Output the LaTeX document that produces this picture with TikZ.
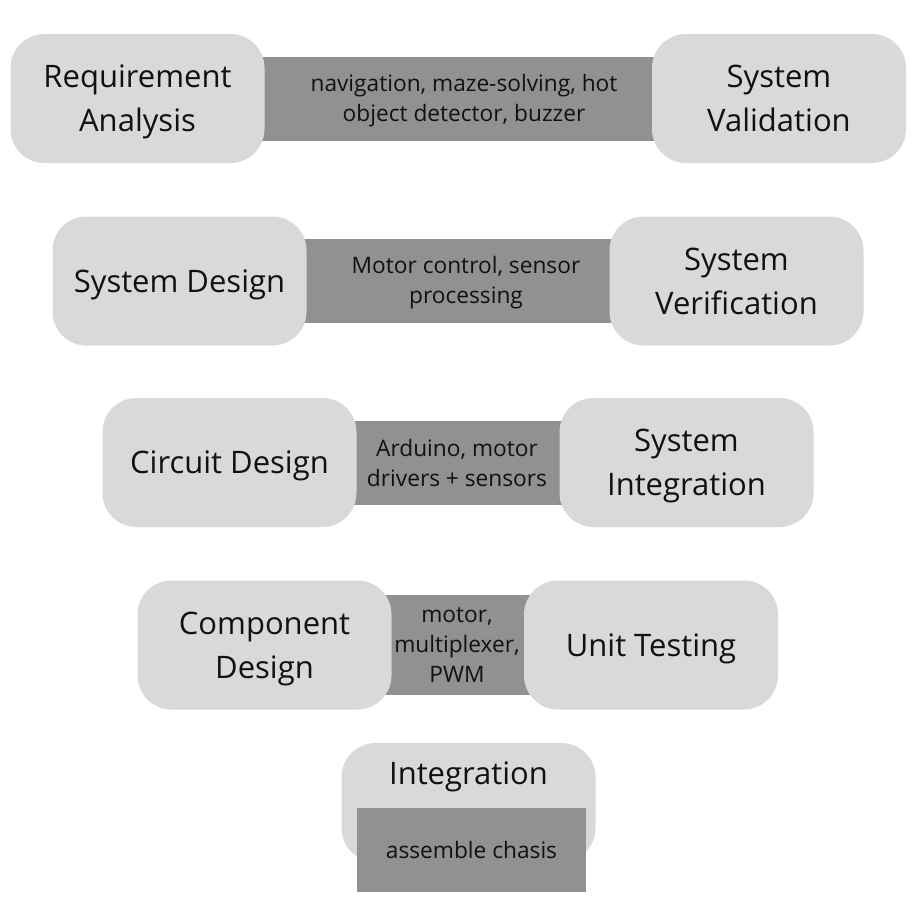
\documentclass[tikz,border=0pt]{standalone}
\usepackage{fontspec}
\setsansfont{Open Sans}
\usepackage{xcolor}
\usepackage{tikz}
\usetikzlibrary{calc,backgrounds}
\definecolor{stagegray}{RGB}{217, 217, 217}
\definecolor{bargray}{RGB}{145, 145, 145}
\definecolor{inkblack}{RGB}{17, 17, 17}

\begin{document}
\begin{tikzpicture}[x=1pt, y=-1pt, every node/.style={font=\sffamily, text=inkblack},
    stagebox/.style={fill=stagegray, rounded corners=34pt, minimum width=254pt, minimum height=129pt, inner sep=0pt, align=center, text depth=0pt, font=\sffamily\fontsize{31}{44}\selectfont},
    linkbar/.style={fill=bargray},
    linktext/.style={align=center, inner sep=0pt, text depth=0pt, font=\sffamily\fontsize{22.7}{30}\selectfont}]
    \useasboundingbox (0,0) rectangle (924,910);

    % Left arm
    \node[stagebox] (reqbox) at (137.5,98.5) {Requirement\\Analysis};
    \node[stagebox] (desbox) at (179.5,281) {System Design};
    \node[stagebox] (cirbox) at (229.5,462.5) {Circuit Design};
    \node[stagebox] (combox) at (264.5,645) {Component\\Design};

    % Right arm
    \node[stagebox] (valbox) at (779,98.5) {System\\Validation};
    \node[stagebox] (verbox) at (736.5,281) {System\\Verification};
    \node[stagebox] (intbox) at (686.5,462.5) {System\\Integration};
    \node[stagebox] (unitbox) at (651,645) {Unit Testing};

    % Bars between the arms
    \begin{scope}[on background layer]
        \fill[linkbar] ($(reqbox.east)+(-20,-42)$) rectangle ($(valbox.west)+(20,42)$);
        \fill[linkbar] ($(desbox.east)+(-20,-42)$) rectangle ($(verbox.west)+(20,42)$);
        \fill[linkbar] ($(cirbox.east)+(-20,-42)$) rectangle ($(intbox.west)+(20,42)$);
        \fill[linkbar] ($(combox.east)+(-20,-50)$) rectangle ($(unitbox.west)+(20,50)$);
    \end{scope}
    \node[linktext] (reqtext) at (464,98) {navigation, maze-solving, hot\\object detector, buzzer};
    \node[linktext] (destext) at (466,280) {Motor control, sensor\\processing};
    \node[linktext] (cirtext) at (457,463) {Arduino, motor\\drivers + sensors};
    \node[linktext] (comtext) at (457,645) {motor,\\multiplexer,\\PWM};

    % Bottom of the V
    \node[stagebox, minimum height=119pt] (assybox) at (468.5,802.5) {};
    \node[font=\sffamily\fontsize{31}{44}\selectfont] (assylabel) at (468.5,777) {Integration};
    \node[linkbar, linktext, minimum width=229pt, minimum height=84pt] (chasis) at (471.5,850) {assemble chasis};
\end{tikzpicture}
\end{document}
